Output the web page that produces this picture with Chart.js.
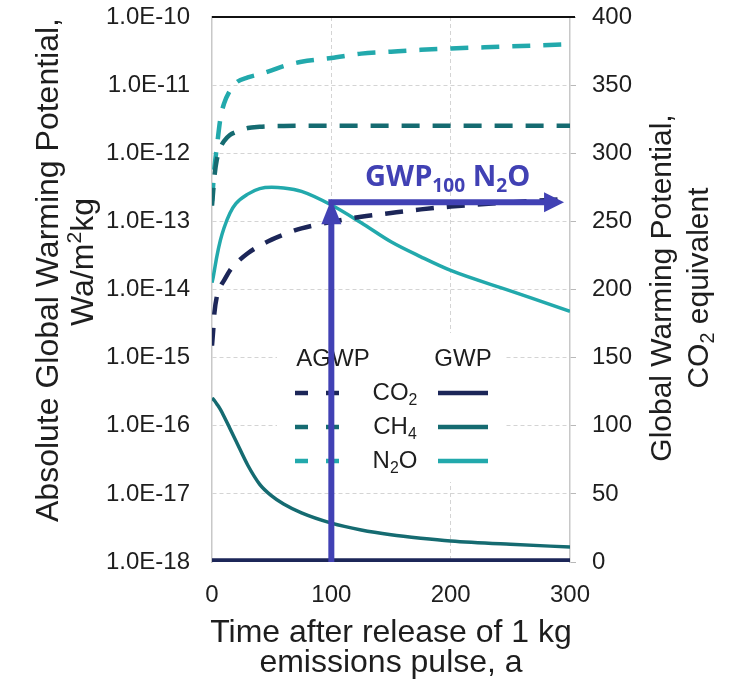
<!DOCTYPE html>
<html>
<head>
<meta charset="utf-8">
<script src="https://cdn.jsdelivr.net/npm/chart.js@4.4.1/dist/chart.umd.min.js"></script>
<style>
  html, body { margin: 0; padding: 0; background: #fff; }
  #wrap { width: 731px; height: 685px; }
</style>
</head>
<body>
<div id="wrap"><canvas id="gwpChart" width="731" height="685"></canvas></div>
<script>
// time after the pulse, years
const years = [0, 1, 2, 4, 7, 10, 15, 20, 30, 40, 50, 60, 75, 100, 125, 150, 175, 200, 250, 300];

// AGWP, W a / m2 kg (left, log axis)
const agwpCO2 = [1.5e-15, 2.5e-15, 4.5e-15, 7.8e-15, 1.1e-14, 1.35e-14, 1.9e-14, 2.4e-14, 3.4e-14, 4.4e-14,
                 5.4e-14, 6.4e-14, 7.9e-14, 9.8e-14, 1.17e-13, 1.33e-13, 1.5e-13, 1.65e-13, 1.9e-13, 2.15e-13];
const agwpCH4 = [1.7e-13, 2.8e-13, 4.5e-13, 8.0e-13, 1.2e-12, 1.5e-12, 1.85e-12, 2.05e-12, 2.35e-12, 2.45e-12,
                 2.5e-12, 2.52e-12, 2.53e-12, 2.53e-12, 2.53e-12, 2.53e-12, 2.53e-12, 2.53e-12, 2.53e-12, 2.53e-12];
const agwpN2O = [2.0e-13, 3.5e-13, 6.0e-13, 1.2e-12, 3.2e-12, 5.3e-12, 8.3e-12, 1.08e-11, 1.3e-11, 1.45e-11,
                 1.65e-11, 1.9e-11, 2.2e-11, 2.5e-11, 2.9e-11, 3.1e-11, 3.3e-11, 3.45e-11, 3.7e-11, 4.0e-11];

// GWP, CO2 equivalent (right, linear axis)
const gwpCO2 = [1, 1, 1, 1, 1, 1, 1, 1, 1, 1, 1, 1, 1, 1, 1, 1, 1, 1, 1, 1];
const gwpCH4 = [120, 119.5, 118.5, 116, 112, 107, 98, 89, 71, 57, 48.5, 42.5, 36, 28.5, 23.5, 20, 17.5, 15.5, 13, 11];
const gwpN2O = [205, 209, 214, 224, 236, 245, 256, 263, 270, 274, 275, 274.5, 272, 262, 249, 235, 224, 214, 199, 184];

// axes
const xTicks = [0, 100, 200, 300];
const leftTicks = [1e-18, 1e-17, 1e-16, 1e-15, 1e-14, 1e-13, 1e-12, 1e-11, 1e-10];
const leftTickLabels = ['1.0E-18', '1.0E-17', '1.0E-16', '1.0E-15', '1.0E-14', '1.0E-13', '1.0E-12', '1.0E-11', '1.0E-10'];
const rightTicks = [0, 50, 100, 150, 200, 250, 300, 350, 400];

// GWP100 annotation
const gwpYear = 100;
const gwp100N2O = 264;
const arrowEndYear = 295;

const FONT = "'Liberation Sans', Arial, sans-serif";
const NAVY = '#1c2658';
const TEAL = '#156b71';
const CYAN = '#22a9ac';
const ARROW = '#4141b4';
const INK = '#1e1e1e';

const pts = vals => vals.map((v, i) => ({ x: years[i], y: v }));
const DASH = [18, 13];

function drawRich(ctx, parts, x, y, size, opts) {
  opts = opts || {};
  const weight = opts.weight || 'normal';
  const fam = opts.family || FONT;
  const base = y + size * 0.35;
  let w = 0;
  parts.forEach(([t, k]) => {
    ctx.font = `${weight} ${k ? size * 0.66 : size}px ${fam}`;
    w += ctx.measureText(t).width;
  });
  let cx = opts.align === 'left' ? x : x - w / 2;
  ctx.textAlign = 'left';
  ctx.textBaseline = 'alphabetic';
  parts.forEach(([t, k]) => {
    ctx.font = `${weight} ${k ? size * 0.66 : size}px ${fam}`;
    const dy = k === 'sub' ? size * 0.2 : k === 'sup' ? -size * 0.38 : 0;
    ctx.fillText(t, cx, base + dy);
    cx += ctx.measureText(t).width;
  });
}

function rotText(ctx, parts, x, y, size) {
  ctx.save();
  ctx.translate(x, y);
  ctx.rotate(-Math.PI / 2);
  drawRich(ctx, parts, 0, 0, size);
  ctx.restore();
}

const overlay = {
  id: 'overlay',
  beforeDatasetsDraw(chart) {
    const { ctx, chartArea: a } = chart;
    ctx.save();
    ctx.fillStyle = '#fff';
    ctx.fillRect(a.left + 65, a.top + 316, 228, 149);

    ctx.fillStyle = INK;
    drawRich(ctx, [['AGWP']], a.left + 121, a.top + 341, 24);
    drawRich(ctx, [['GWP']], a.left + 251, a.top + 341, 24);

    const rows = [
      [NAVY, [['CO'], ['2', 'sub']]],
      [TEAL, [['CH'], ['4', 'sub']]],
      [CYAN, [['N'], ['2', 'sub'], ['O']]]
    ];
    rows.forEach(([col, label], i) => {
      const y = a.top + 376 + i * 34;
      ctx.lineWidth = 4.5;
      ctx.strokeStyle = col;
      ctx.setLineDash([13, 18]);
      ctx.beginPath();
      ctx.moveTo(a.left + 83, y);
      ctx.lineTo(a.left + 131, y);
      ctx.stroke();
      ctx.setLineDash([]);
      ctx.beginPath();
      ctx.moveTo(a.left + 226, y);
      ctx.lineTo(a.left + 276, y);
      ctx.stroke();
      ctx.fillStyle = INK;
      drawRich(ctx, label, a.left + 183, y - 1, 24);
    });
    ctx.restore();
  },
  afterDatasetsDraw(chart) {
    const { ctx, chartArea: a, scales } = chart;
    const xs = scales.x, yr = scales.yR;
    ctx.save();
    // top frame line
    ctx.strokeStyle = '#111';
    ctx.lineWidth = 2;
    ctx.beginPath();
    ctx.moveTo(a.left, a.top);
    ctx.lineTo(a.right + 5, a.top);
    ctx.stroke();

    // GWP100 arrows
    const xv = xs.getPixelForValue(gwpYear);
    const yv = yr.getPixelForValue(gwp100N2O);
    const y0 = yr.getPixelForValue(0);
    const xe = xs.getPixelForValue(arrowEndYear);
    ctx.strokeStyle = ARROW;
    ctx.fillStyle = ARROW;
    ctx.lineWidth = 6;
    ctx.beginPath();
    ctx.moveTo(xv, y0);
    ctx.lineTo(xv, yv + 18);
    ctx.stroke();
    ctx.beginPath();
    ctx.moveTo(xv, yv - 3);
    ctx.lineTo(xv - 10, yv + 22);
    ctx.lineTo(xv + 10, yv + 22);
    ctx.closePath();
    ctx.fill();
    ctx.beginPath();
    ctx.moveTo(xv - 3, yv);
    ctx.lineTo(xe - 16, yv);
    ctx.stroke();
    ctx.beginPath();
    ctx.moveTo(xe, yv);
    ctx.lineTo(xe - 20, yv - 10);
    ctx.lineTo(xe - 20, yv + 10);
    ctx.closePath();
    ctx.fill();

    drawRich(ctx, [['GWP'], ['100', 'sub'], [' N'], ['2', 'sub'], ['O']],
      (xv + xe) / 2, yv - 26, 29, { weight: 'bold', family: "'Open Sans', sans-serif" });
    ctx.restore();
  },
  afterDraw(chart) {
    const { ctx, chartArea: a } = chart;
    ctx.save();
    ctx.fillStyle = INK;
    rotText(ctx, [['Absolute Global Warming Potential,']], 47, 270, 32);
    rotText(ctx, [['Wa/m'], ['2', 'sup'], ['kg']], 82, 262, 32);
    rotText(ctx, [['Global Warming Potential,']], 660, 288, 30);
    rotText(ctx, [['CO'], ['2', 'sub'], [' equivalent']], 697, 288, 30);
    drawRich(ctx, [['Time after release of 1 kg']], (a.left + a.right) / 2, 631, 32);
    drawRich(ctx, [['emissions pulse, a']], (a.left + a.right) / 2, 661, 32);
    ctx.restore();
  }
};

const lineDefaults = { pointRadius: 0, fill: false, cubicInterpolationMode: 'monotone', borderCapStyle: 'butt' };
const noPadY = s => { s.paddingTop = 0; s.paddingBottom = 0; };

new Chart(document.getElementById('gwpChart'), {
  type: 'line',
  data: {
    datasets: [
      { ...lineDefaults, data: pts(agwpCO2), yAxisID: 'yL', borderColor: NAVY, borderWidth: 4.5, borderDash: DASH },
      { ...lineDefaults, data: pts(agwpCH4), yAxisID: 'yL', borderColor: TEAL, borderWidth: 4.5, borderDash: DASH },
      { ...lineDefaults, data: pts(agwpN2O), yAxisID: 'yL', borderColor: CYAN, borderWidth: 4.5, borderDash: DASH },
      { ...lineDefaults, data: pts(gwpCO2), yAxisID: 'yR', borderColor: NAVY, borderWidth: 5 },
      { ...lineDefaults, data: pts(gwpCH4), yAxisID: 'yR', borderColor: TEAL, borderWidth: 3.5 },
      { ...lineDefaults, data: pts(gwpN2O), yAxisID: 'yR', borderColor: CYAN, borderWidth: 3.5 }
    ]
  },
  options: {
    responsive: false,
    animation: false,
    devicePixelRatio: 1,
    layout: { padding: { top: 17, left: 0, right: 0, bottom: 0 } },
    plugins: { legend: { display: false }, tooltip: { enabled: false } },
    scales: {
      x: {
        type: 'linear', min: 0, max: 300,
        afterFit: s => { s.height = 123; s.paddingLeft = 0; s.paddingRight = 0; },
        afterBuildTicks: s => { s.ticks = xTicks.map(v => ({ value: v })); },
        grid: { color: c => (c.tick && (c.tick.value === 0 || c.tick.value === 300)) ? 'rgba(0,0,0,0)' : '#d4d4d4', drawTicks: false, lineWidth: 1 },
        border: { display: false, dash: [4, 3] },
        ticks: { font: { size: 24, family: FONT }, color: INK, padding: 19, maxRotation: 0 }
      },
      yL: {
        type: 'logarithmic', position: 'left', min: 1e-18, max: 1e-10,
        afterFit: s => { s.width = 212; noPadY(s); },
        afterBuildTicks: s => { s.ticks = leftTicks.map(v => ({ value: v })); },
        grid: { color: c => (c.tick && (c.tick.value === 1e-10 || c.tick.value === 1e-18)) ? 'rgba(0,0,0,0)' : '#d4d4d4', drawTicks: false, lineWidth: 1 },
        border: { display: true, color: '#c8c8c8', width: 1.5, dash: [4, 3] },
        ticks: {
          font: { size: 24, family: FONT }, color: INK, padding: 22,
          callback: v => { const i = leftTicks.findIndex(t => Math.abs(Math.log10(t) - Math.log10(v)) < 1e-6); return i >= 0 ? leftTickLabels[i] : ''; }
        }
      },
      yR: {
        type: 'linear', position: 'right', min: 0, max: 400,
        afterFit: s => { s.width = 161; noPadY(s); },
        afterBuildTicks: s => { s.ticks = rightTicks.map(v => ({ value: v })); },
        grid: { drawOnChartArea: false, drawTicks: true, tickLength: 6, color: '#b8b8b8' },
        border: { display: true, color: '#c8c8c8', width: 1.5 },
        ticks: { font: { size: 24, family: FONT }, color: INK, padding: 16 }
      }
    }
  },
  plugins: [overlay]
});
</script>
</body>
</html>
